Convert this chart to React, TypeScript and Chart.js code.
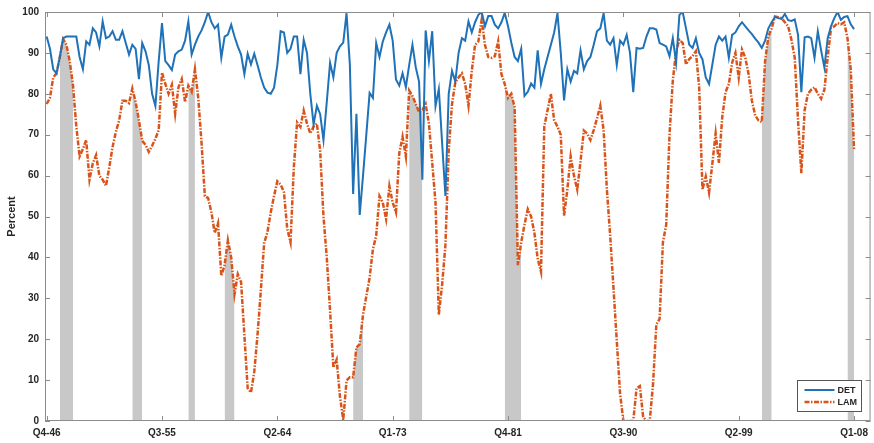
import React, { useEffect, useRef } from "react";
import { Chart, registerables } from "chart.js";

Chart.register(...registerables);

// Quarter index 0 = Q4-46 ... 245 = Q1-08
const tickIndex = [0, 35, 70, 105, 140, 175, 210, 245];
const tickLabels = ["Q4-46", "Q3-55", "Q2-64", "Q1-73", "Q4-81", "Q3-90", "Q2-99", "Q1-08"];
const yTicks = [0, 10, 20, 30, 40, 50, 60, 70, 80, 90, 100];

const detValues = [
  94, 91, 86, 85, 89, 93.6, 94, 94, 94, 94,
  89, 86, 92.8, 92, 96, 95, 91.6, 97.7, 93.6, 94,
  95.3, 93.2, 93.2, 95.3, 92.4, 89.6, 92, 91, 83.6, 92.4,
  90.4, 87, 80, 77, 88, 97.3, 88, 87, 85.8, 89.6,
  90.4, 90.8, 93, 97.7, 89.6, 92, 94, 95.5, 97.5, 100,
  97.5, 96, 96.9, 88.8, 94, 94.5, 96.9, 94, 91.6, 89.6,
  84.8, 89.8, 87.2, 89.8, 87, 84, 81.5, 80.3, 80, 81.5,
  87, 95.3, 95, 90, 91, 94, 94, 84.8, 93.2, 90,
  80, 72.5, 77.1, 75, 68.7, 78, 87.6, 84, 90, 91.6,
  92.5, 99.7, 87.2, 55.5, 75.1, 50.4, 60, 70, 80.2, 79,
  92.4, 89, 92.8, 95, 96.9, 93, 83.5, 82, 85, 81.6,
  87, 92, 86.5, 83, 59, 95.5, 88, 95.3, 77, 81.2,
  68, 55, 80, 85.6, 83, 90, 93.6, 93, 97.7, 95,
  97.5, 99.3, 100, 96.5, 99, 99, 96.9, 96, 97.5, 99.8,
  96.5, 92.5, 89, 88, 91, 79.5, 80.5, 82.5, 81.5, 90.6,
  82.4, 86, 89, 92, 95, 99.7, 90, 78.4, 86, 83,
  85.6, 85, 90.6, 86, 88, 89, 92, 95.3, 96, 99.7,
  93, 92, 93.6, 87, 93, 92, 94.4, 90, 80.4, 91.2,
  91, 91.2, 94, 96, 96, 95.7, 92.4, 92, 91.6, 89.2,
  93.6, 87.6, 99.3, 100, 96, 92, 91.2, 93.6, 90, 88.4,
  84, 82.4, 87.2, 92, 94, 93, 94, 88.8, 94.4, 95,
  96.5, 97.5, 96.5, 95.5, 94.6, 93.5, 92.5, 91.2, 93, 96,
  97.5, 98.8, 98.5, 98.3, 99.5, 98, 97.8, 98.2, 94.4, 80.4,
  93.8, 94, 93.6, 88.8, 95.3, 90.6, 86.4, 93.6, 96.5, 98.5,
  100, 98.1, 98.8, 99, 97, 95.8,
];

const lamValues = [
  77.5, 79, 84, 85, 89, 93.4, 92, 88, 82, 72,
  64.7, 66.5, 68.7, 59, 63, 65, 60, 59, 57.5, 62,
  67, 70.7, 73.5, 78.3, 78.3, 77.7, 81.3, 78, 73.5, 68.5,
  67.5, 65.8, 67.3, 69, 71.1, 85.2, 82.4, 80, 82.2, 75.1,
  81.6, 83.6, 78, 82, 80.5, 86, 79, 68, 55, 54.5,
  51, 46, 48.4, 35.5, 38.1, 44.2, 40, 31, 35.9, 34,
  21, 8, 7, 12, 21.2, 32, 43.5, 46.2, 51, 55,
  58.6, 57.8, 56, 47, 43.7, 62, 73, 71.9, 75.9, 72.7,
  70.3, 72, 72.7, 66, 50, 40, 27, 13.1, 15, 6,
  0.3, 9.9, 10.7, 10.7, 18, 18.8, 26, 30.5, 35, 42,
  45.3, 55, 53.4, 49.4, 57.4, 53.4, 51, 65.5, 69.5, 64.7,
  80.8, 79.5, 77.5, 75.5, 76, 77.5, 72.7, 63.1, 53.4, 26,
  33.3, 43, 66, 77.5, 82.8, 84, 85, 82.4, 77.1, 85.6,
  92, 92.8, 98.1, 92, 89, 88.8, 89.2, 92.8, 84.8, 82.4,
  79, 80, 76.7, 38.1, 43.7, 48, 51.8, 50, 46, 39.7,
  36.5, 72, 76, 80, 73.5, 72, 70, 50.2, 56.6, 64.7,
  60, 56.6, 63.5, 71, 70.3, 68.7, 71.1, 74, 77.1, 71.1,
  56.6, 45.3, 32.5, 19.6, 6.7, 0, 0, 0, 0, 8,
  8.5, 1, 0, 0, 9, 23.6, 25, 43.7, 48, 70,
  83.2, 90.4, 93.2, 92.4, 87.2, 88.5, 89.2, 90.4, 81.6, 56.6,
  59.8, 55.8, 63, 70.3, 63.1, 74.3, 80.4, 82.4, 87.6, 90,
  84, 90.8, 88.8, 84.8, 78.3, 74.7, 73.5, 73.1, 88, 94,
  96, 98.9, 98.7, 98.5, 97.5, 96.5, 93.2, 88.8, 73.5, 60.6,
  76, 80, 81, 81.6, 80, 78.8, 81, 89, 96, 96.5,
  97.3, 97, 97.5, 93.6, 86, 66.3,
];

// Recession shading (quarter indices, inclusive)
const recessionStart = [4, 26, 43, 54, 93, 110, 139, 217, 243];
const recessionEnd = [8, 29, 45, 57, 96, 114, 144, 220, 245];

const FONT = "'Liberation Sans', Arial, sans-serif";
const TEXT = "#262626";
const AXIS = "#8c8c8c";

const inRecession = (i: number) =>
  recessionStart.some((s, k) => i >= s && i <= recessionEnd[k]);

const framePlugin = {
  id: "frame",
  afterDraw(chart: any) {
    const { ctx, chartArea, scales } = chart;
    const { left, right, top, bottom } = chartArea;
    ctx.save();
    ctx.strokeStyle = AXIS;
    ctx.lineWidth = 1;
    ctx.strokeRect(left + 0.5, top + 0.5, right - left - 1, bottom - top - 1);
    const tl = 5;
    ctx.beginPath();
    yTicks.forEach((v) => {
      const py = Math.round(scales.y.getPixelForValue(v)) + 0.5;
      ctx.moveTo(left, py);
      ctx.lineTo(left + tl, py);
      ctx.moveTo(right, py);
      ctx.lineTo(right - tl, py);
    });
    tickIndex.forEach((v) => {
      const px = Math.round(scales.x.getPixelForValue(v)) + 0.5;
      ctx.moveTo(px, bottom);
      ctx.lineTo(px, bottom - tl);
      ctx.moveTo(px, top);
      ctx.lineTo(px, top + tl);
    });
    ctx.stroke();

    // legend box (inside plot, lower right)
    const bx = 797.5, by = 380.5, bw = 64, bh = 31;
    ctx.fillStyle = "#ffffff";
    ctx.fillRect(bx, by, bw, bh);
    ctx.strokeStyle = "#555555";
    ctx.strokeRect(bx, by, bw, bh);
    const items = chart.data.datasets.slice(0, 2);
    items.forEach((ds: any, k: number) => {
      const ly = by + 9.5 + k * 12;
      ctx.beginPath();
      ctx.strokeStyle = ds.borderColor;
      ctx.lineWidth = ds.borderWidth;
      ctx.setLineDash(ds.borderDash || []);
      ctx.moveTo(bx + 7, ly);
      ctx.lineTo(bx + 37, ly);
      ctx.stroke();
      ctx.setLineDash([]);
      ctx.fillStyle = TEXT;
      ctx.font = `bold 9px ${FONT}`;
      ctx.textBaseline = "middle";
      ctx.textAlign = "left";
      ctx.fillText(ds.label, bx + 40, ly + 0.5);
    });
    ctx.restore();
  },
};

export default function App() {
  const ref = useRef<HTMLCanvasElement>(null);
  useEffect(() => {
    document.body.style.margin = "0";
    const canvas = ref.current;
    if (!canvas) return;
    const toXY = (arr: (number | null)[]) => arr.map((v, i) => ({ x: i, y: v }));
    const shade = lamValues.map((v, i) => (inRecession(i) ? v : null));
    const chart = new Chart(canvas, {
      type: "line",
      data: {
        datasets: [
          {
            label: "DET",
            data: toXY(detValues),
            borderColor: "#1f72b8",
            borderWidth: 2,
            pointRadius: 0,
            fill: false,
            order: 1,
          },
          {
            label: "LAM",
            data: toXY(lamValues),
            borderColor: "#d9541a",
            borderWidth: 2.5,
            borderDash: [5, 1.5, 1.5, 1.5],
            pointRadius: 0,
            fill: false,
            order: 2,
          },
          {
            label: "Recession",
            data: toXY(shade),
            borderWidth: 0,
            borderColor: "rgba(0,0,0,0)",
            backgroundColor: "#c8c8c8",
            pointRadius: 0,
            fill: "origin",
            spanGaps: false,
            order: 3,
          },
        ],
      },
      options: {
        responsive: false,
        animation: false,
        events: [],
        layout: { padding: { top: 7, right: 2, left: 0, bottom: 0 } },
        plugins: { legend: { display: false }, tooltip: { enabled: false } },
        scales: {
          x: {
            type: "linear",
            min: -0.5,
            max: 250,
            afterBuildTicks: (s: any) => {
              s.ticks = tickIndex.map((v) => ({ value: v }));
            },
            afterFit: (s: any) => {
              s.height = 22;
            },
            grid: { display: false, drawTicks: false },
            border: { display: false },
            ticks: {
              autoSkip: false,
              maxRotation: 0,
              padding: 6,
              color: TEXT,
              font: { family: FONT, size: 10, weight: "bold" },
              callback: (v: any) => tickLabels[tickIndex.indexOf(Number(v))] ?? "",
            },
          },
          y: {
            min: 0,
            max: 100,
            afterBuildTicks: (s: any) => {
              s.ticks = yTicks.map((v) => ({ value: v }));
            },
            afterFit: (s: any) => {
              s.width = 45;
            },
            grid: { display: false, drawTicks: false },
            border: { display: false },
            ticks: {
              padding: 6,
              color: TEXT,
              font: { family: FONT, size: 10, weight: "bold" },
            },
            title: {
              display: true,
              text: "Percent",
              color: TEXT,
              font: { family: FONT, size: 11, weight: "bold" },
              padding: { top: 5, bottom: 0 },
            },
          },
        },
      },
      plugins: [framePlugin],
    });
    return () => chart.destroy();
  }, []);
  return <canvas ref={ref} width={874} height={443} style={{ display: "block" }} />;
}
